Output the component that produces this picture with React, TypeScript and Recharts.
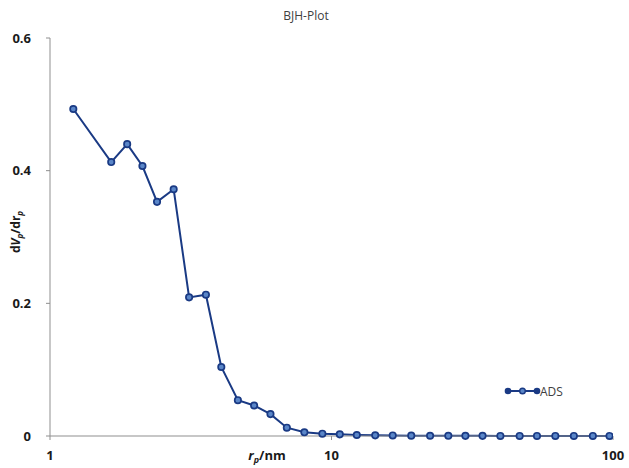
import React from "react";
import { LineChart, Line, XAxis, YAxis } from "recharts";

// Pore radius r_p (nm) and BJH adsorption distribution dV_p/dr_p
const rp = [
  1.21, 1.65, 1.88, 2.13, 2.4, 2.75, 3.12, 3.58, 4.06, 4.65, 5.31, 6.07, 6.94,
  8.01, 9.28, 10.7, 12.3, 14.3, 16.5, 19.2, 22.4, 26.0, 29.9, 34.4, 39.8, 46.6,
  53.7, 62.4, 72.6, 84.8, 97.2,
];
const dvdr = [
  0.493, 0.413, 0.44, 0.407, 0.353, 0.372, 0.209, 0.213, 0.104, 0.054, 0.046,
  0.033, 0.0125, 0.0056, 0.0035, 0.0025, 0.0015, 0.001, 0.0008, 0.0005, 0.0004,
  0.0003, 0.0002, 0.0002, 0.0001, 0.0001, 0.0001, 0.0001, 0.0001, 0.0001, 0.0001,
];
const xTicks = [1, 10, 100];
const yTicks = [0, 0.2, 0.4, 0.6];
const seriesName = "ADS";

const data = rp.map((r, i) => ({ r, v: dvdr[i] }));

const LINE = "#1a3a84";
const FILL = "#5a86c8";
const AXIS = "#8f8f8f";
const FONT = "'Open Sans', sans-serif";

const Dot = (props: any) => {
  const { cx, cy } = props;
  if (cx == null || cy == null) return null;
  return <circle cx={cx} cy={cy} r={3.2} fill={FILL} stroke={LINE} strokeWidth={1.7} />;
};

// Series key drawn in the lower right of the plot
const LegendKey = ({ x, y }: { x: number; y: number }) => (
  <g>
    <line x1={x} y1={y} x2={x + 29} y2={y} stroke={LINE} strokeWidth={2} />
    <circle cx={x} cy={y} r={3.3} fill={LINE} />
    <circle cx={x + 14.5} cy={y} r={2.8} fill={FILL} stroke={LINE} strokeWidth={1.4} />
    <circle cx={x + 29} cy={y} r={3.3} fill={LINE} />
    <text x={x + 32} y={y + 4.5} fontFamily={FONT} fontSize={12} fill="#404040">
      {seriesName}
    </text>
  </g>
);

export default function App() {
  return (
    <div style={{ position: "absolute", left: 0, top: 0, width: 629, height: 468, background: "#fff" }}>
      <LineChart
        width={629}
        height={468}
        data={data}
        margin={{ top: 38, right: 16, bottom: 0, left: 0 }}
      >
        <text x={306} y={20} textAnchor="middle" fontFamily={FONT} fontSize={12} fill="#404040">
          BJH-Plot
        </text>
        <XAxis
          dataKey="r"
          type="number"
          scale="log"
          domain={[1, 100]}
          ticks={xTicks}
          allowDataOverflow
          height={32}
          stroke={AXIS}
          tickSize={4}
          tickMargin={11}
          tick={{ fill: "#1a1a1a", fontSize: 13, fontWeight: 700, fontFamily: FONT }}
        />
        <YAxis
          type="number"
          domain={[0, 0.6]}
          ticks={yTicks}
          width={50}
          stroke={AXIS}
          tickSize={4}
          tickMargin={15}
          tick={{ fill: "#1a1a1a", fontSize: 13, fontWeight: 700, fontFamily: FONT }}
        />
        <Line
          dataKey="v"
          name={seriesName}
          stroke={LINE}
          strokeWidth={2}
          dot={<Dot />}
          activeDot={false}
          isAnimationActive={false}
        />
        <LegendKey x={508} y={391} />
        <text x={267} y={460} textAnchor="middle" fontFamily={FONT} fontSize={13} fontWeight={700} fill="#1a1a1a">
          <tspan fontStyle="italic">r</tspan>
          <tspan fontStyle="italic" fontSize={9} dy={3}>p</tspan>
          <tspan dy={-3}>/nm</tspan>
        </text>
        <text
          transform="translate(20 232) rotate(-90)"
          textAnchor="middle"
          fontFamily={FONT}
          fontSize={12}
          fontWeight={700}
          fill="#1a1a1a"
        >
          <tspan>d</tspan>
          <tspan fontStyle="italic">V</tspan>
          <tspan fontStyle="italic" fontSize={8} dy={3}>p</tspan>
          <tspan dy={-3}>/dr</tspan>
          <tspan fontStyle="italic" fontSize={8} dy={3}>p</tspan>
        </text>
      </LineChart>
    </div>
  );
}
